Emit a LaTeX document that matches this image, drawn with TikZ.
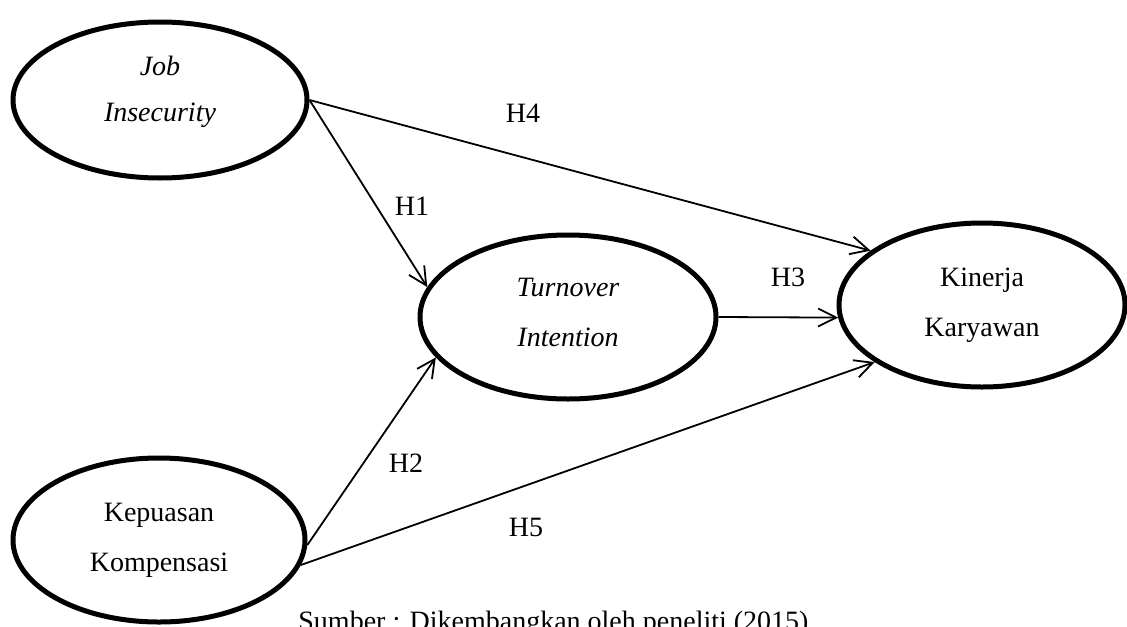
\documentclass[tikz,border=0pt]{standalone}
\usepackage{fontspec}
\setmainfont{Liberation Serif}
\usetikzlibrary{arrows.meta,shapes.geometric}

\begin{document}
\begin{tikzpicture}[x=0.5pt, y=-0.5pt,
  every node/.style={font=\fontsize{14}{25}\selectfont, align=center, inner sep=0pt},
  latent/.style={ellipse, draw, line width=2.5pt, minimum width=146pt, minimum height=82pt},
  itlatent/.style={latent, font=\fontsize{14}{25}\selectfont\itshape},
  hyp/.style={-{Straight Barb[length=9pt, width=9pt]}, line width=0.9pt}]
\useasboundingbox (0, 0) rectangle (1127, 626);
\clip (0, 0) rectangle (1127, 626);
% constructs
\node[itlatent, font=\fontsize{14}{23}\selectfont\itshape, text depth=11pt,
  minimum width=147pt, minimum height=78pt] (job) at (160, 100) {Job\\Insecurity};
\node[latent] (kep) at (159, 540) {Kepuasan\\Kompensasi};
\node[itlatent, text depth=5pt, minimum width=148pt] (to) at (568, 317) {Turnover\\Intention};
\node[latent, minimum width=143pt] (kin) at (982, 305) {Kinerja\\Karyawan};
% hypotheses
\draw[hyp] (job.east) -- (kin.154);
\draw[hyp] (job.east) -- (to.168);
\draw[hyp] (to.east) -- (kin.185);
\draw[hyp] (kep.-2) -- (to.197);
\draw[hyp] (kep.-10) -- (kin.208);
\node (h1) at (412, 206) {H1};
\node (h2) at (406, 463) {H2};
\node (h3) at (788, 277) {H3};
\node (h4) at (523, 113) {H4};
\node (h5) at (526, 527) {H5};
\node[anchor=base west] (src) at (298, 630) {Sumber : Dikembangkan oleh peneliti (2015)};
\end{tikzpicture}
\end{document}
